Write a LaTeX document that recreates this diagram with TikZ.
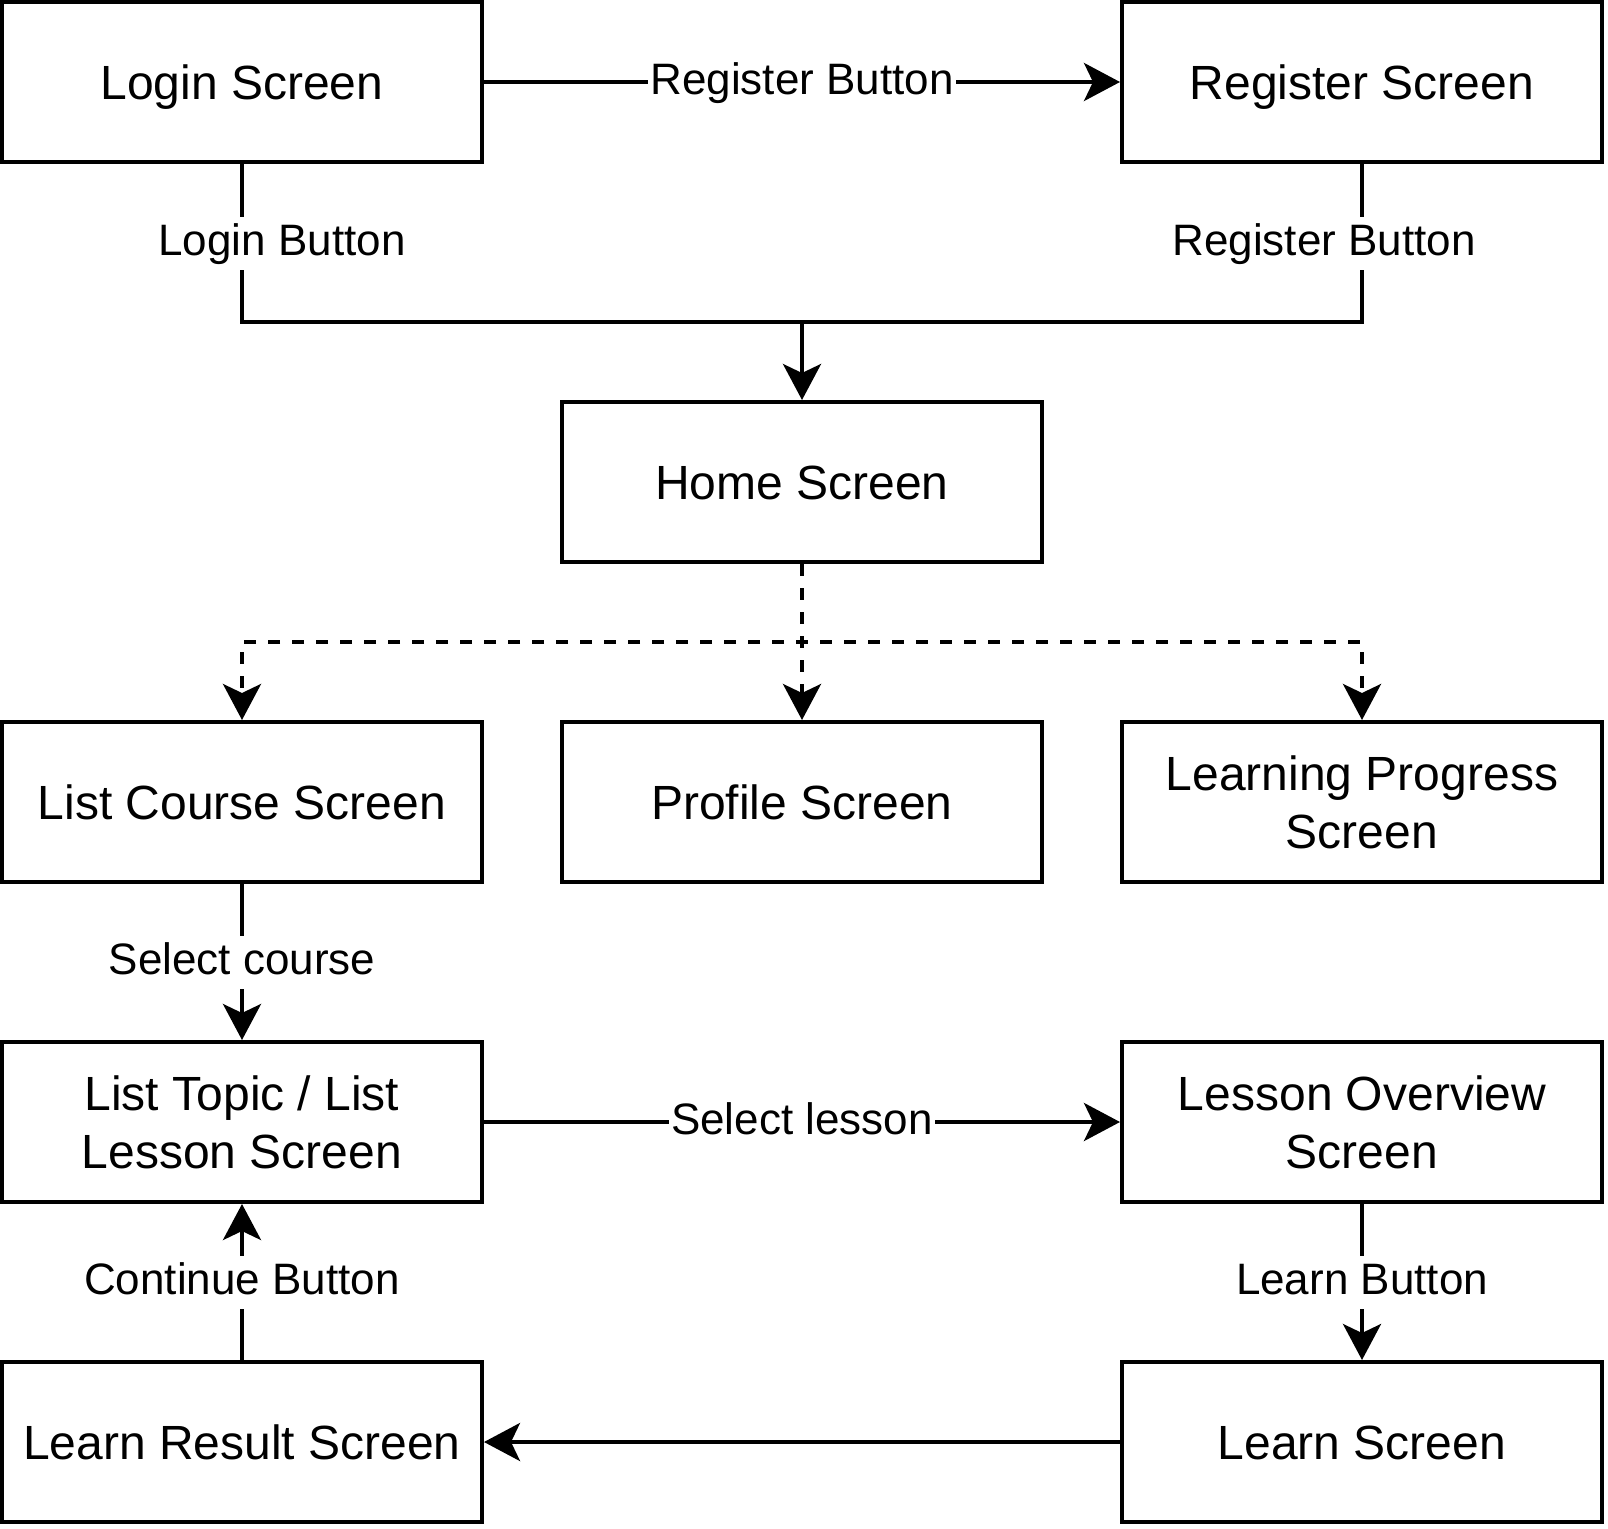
\documentclass[tikz,border=0pt]{standalone}
\usepackage{fontspec}
\setmainfont{Liberation Sans}
\usetikzlibrary{arrows.meta}
\tikzset{
  box/.style={draw=black, line width=4pt, fill=white, minimum width=480pt, minimum height=160pt, inner sep=0pt},
  boxtxt/.style={anchor=base, inner sep=0pt, font=\fontsize{48}{57.6}\selectfont},
  lbl/.style={fill=white, inner xsep=2pt, inner ysep=5pt, text height=34pt, text depth=9pt, font=\fontsize{44}{52.8}\selectfont},
  conn/.style={line width=4pt, draw=black},
  arr/.style={conn, -{Stealth[length=36pt, width=38pt, inset=9pt]}},
  dsh/.style={dash pattern=on 12pt off 12pt}
}
\begin{document}
\begin{tikzpicture}[x=4pt, y=-4pt]
\useasboundingbox (-0.5,-0.5) rectangle (401.5,381.5);
% boxes
\node[box] (login) at (60,20) {};
\node[box] (register) at (340,20) {};
\node[box] (home) at (200,120) {};
\node[box] (listcourse) at (60,200) {};
\node[box] (profile) at (200,200) {};
\node[box] (progress) at (340,200) {};
\node[box] (listtopic) at (60,280) {};
\node[box] (overview) at (340,280) {};
\node[box] (result) at (60,360) {};
\node[box] (learn) at (340,360) {};
% box texts
\node[boxtxt] (t-login) at ([yshift=-17.2pt]login.center) {Login Screen};
\node[boxtxt] (t-register) at ([yshift=-17.2pt]register.center) {Register Screen};
\node[boxtxt] (t-home) at ([yshift=-17.2pt]home.center) {Home Screen};
\node[boxtxt] (t-listcourse) at ([yshift=-17.2pt]listcourse.center) {List Course Screen};
\node[boxtxt] (t-profile) at ([yshift=-17.2pt]profile.center) {Profile Screen};
\node[boxtxt] (t-progress1) at ([yshift=11.6pt]progress.center) {Learning Progress};
\node[boxtxt] (t-progress2) at ([yshift=-46pt]progress.center) {Screen};
\node[boxtxt] (t-listtopic1) at ([yshift=11.6pt]listtopic.center) {List Topic / List};
\node[boxtxt] (t-listtopic2) at ([yshift=-46pt]listtopic.center) {Lesson Screen};
\node[boxtxt] (t-overview1) at ([yshift=11.6pt]overview.center) {Lesson Overview};
\node[boxtxt] (t-overview2) at ([yshift=-46pt]overview.center) {Screen};
\node[boxtxt] (t-result) at ([yshift=-17.2pt]result.center) {Learn Result Screen};
\node[boxtxt] (t-learn) at ([yshift=-17.2pt]learn.center) {Learn Screen};
% junctions
\coordinate (j1) at (200,80);
\coordinate (j2) at (200,160);
% connectors
\draw[arr] (login.east) -- node[lbl] (l-reg1) {Register Button} (register.west);
\draw[conn] (register.south) -- node[lbl, xshift=-38pt] (l-reg2) {Register Button} (register.south |- j1) -- (j1);
\draw[arr] (login.south) -- node[lbl, xshift=40pt] (l-login) {Login Button} (login.south |- j1) -| (home.north);
\draw[arr, dsh] (home.south) -- (j2) -| (listcourse.north);
\draw[arr, dsh] (home.south) -- (j2) -| (progress.north);
\draw[arr, dsh] (home.south) -- (profile.north);
\draw[arr] (listcourse.south) -- node[lbl] (l-course) {Select course} (listtopic.north);
\draw[arr] (listtopic.east) -- node[lbl] (l-lesson) {Select lesson} (overview.west);
\draw[arr] (overview.south) -- node[lbl] (l-learn) {Learn Button} (learn.north);
\draw[arr] (learn.west) -- (result.east);
\draw[arr] (result.north) -- node[lbl] (l-cont) {Continue Button} (listtopic.south);
\end{tikzpicture}
\end{document}
